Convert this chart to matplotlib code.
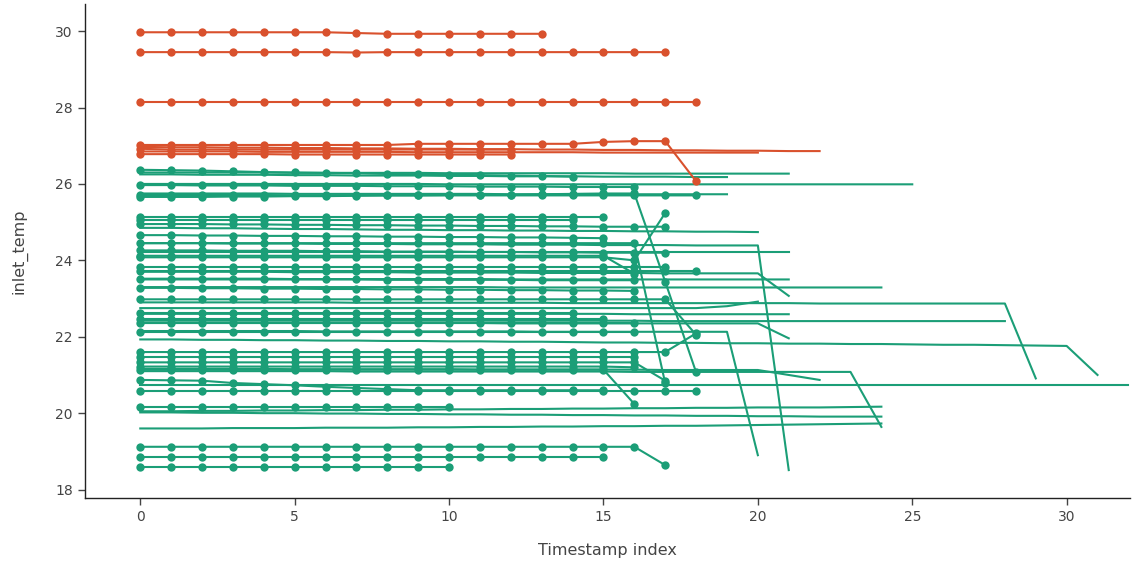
import matplotlib
matplotlib.use("Agg")
import matplotlib.pyplot as plt

plt.rcParams['font.family'] = ['DejaVu Sans']

GREEN = '#1b9e77'
RED = '#d9512d'

# ---- red group: rows with markers (fewer than 20 points) ----
red_marker_rows = [
    [29.97, 29.97, 29.97, 29.97, 29.97, 29.97, 29.97, 29.95, 29.93, 29.93, 29.93, 29.93, 29.93, 29.93],
    [29.45, 29.45, 29.45, 29.45, 29.45, 29.45, 29.45, 29.44, 29.45, 29.45, 29.45, 29.45, 29.45, 29.45, 29.45, 29.45, 29.45, 29.45],
    [28.15, 28.15, 28.15, 28.15, 28.15, 28.15, 28.15, 28.15, 28.15, 28.15, 28.15, 28.15, 28.15, 28.15, 28.15, 28.15, 28.15, 28.15, 28.15],
    [27.02, 27.02, 27.02, 27.02, 27.02, 27.02, 27.02, 27.02, 27.02, 27.05, 27.05, 27.05, 27.05, 27.05, 27.05, 27.10, 27.12, 27.12, 26.07],
    [26.92, 26.90, 26.90, 26.90, 26.90, 26.90, 26.90, 26.90, 26.90, 26.90, 26.90, 26.90, 26.90],
    [26.78, 26.78, 26.78, 26.78, 26.78, 26.77, 26.77, 26.77, 26.77, 26.77, 26.77, 26.77, 26.77],
]
# ---- red group: long rows drawn as lines only ----
red_line_rows = [
    [26.97, 26.96, 26.96, 26.95, 26.95, 26.94, 26.94, 26.93, 26.93, 26.92, 26.92, 26.91, 26.91, 26.90, 26.90, 26.89, 26.89, 26.88, 26.88, 26.87, 26.87, 26.86, 26.86],
    [26.85, 26.85, 26.85, 26.85, 26.84, 26.84, 26.84, 26.84, 26.84, 26.83, 26.83, 26.83, 26.83, 26.83, 26.83, 26.82, 26.82, 26.82, 26.82, 26.82, 26.82],
]

# ---- green group: rows with markers ----
green_marker_rows = [
    [26.37, 26.36, 26.35, 26.33, 26.31, 26.30, 26.29, 26.28, 26.26, 26.25, 26.24, 26.23, 26.22, 26.21, 26.19],
    [25.97, 25.97, 25.96, 25.96, 25.96, 25.95, 25.95, 25.95, 25.94, 25.94, 25.94, 25.93, 25.93, 25.93, 25.92, 25.92, 25.92],
    [25.71, 25.71, 25.71, 25.71, 25.71, 25.70, 25.70, 25.70, 25.70, 25.70, 25.70, 25.70, 25.70, 25.70, 25.70, 25.70, 25.70, 25.70, 25.70],
    [25.66, 25.66, 25.66, 25.67, 25.67, 25.68, 25.68, 25.69, 25.70, 25.70, 25.71, 25.72, 25.72, 25.73, 25.74, 25.75, 25.75, 23.44, 21.07],
    [25.13, 25.13, 25.13, 25.13, 25.13, 25.13, 25.13, 25.13, 25.13, 25.13, 25.13, 25.13, 25.13, 25.13, 25.13, 25.13],
    [25.05, 25.05, 25.05, 25.05, 25.05, 25.05, 25.05, 25.05, 25.05, 25.05, 25.05, 25.05, 25.05, 25.05, 25.05],
    [24.95, 24.95, 24.95, 24.94, 24.94, 24.93, 24.93, 24.92, 24.92, 24.91, 24.91, 24.90, 24.90, 24.89, 24.89, 24.88, 24.88, 24.88],
    [24.66, 24.66, 24.65, 24.65, 24.64, 24.64, 24.63, 24.63, 24.62, 24.62, 24.61, 24.61, 24.60, 24.60, 24.59, 24.58],
    [24.26, 24.26, 24.26, 24.25, 24.25, 24.25, 24.24, 24.24, 24.23, 24.23, 24.23, 24.22, 24.22, 24.21, 24.21, 24.20, 24.20, 24.20],
    [24.08, 24.08, 24.08, 24.08, 24.08, 24.08, 24.08, 24.08, 24.08, 24.08, 24.08, 24.08, 24.08, 24.08, 24.08, 24.08, 24.00, 25.24],
    [24.12, 24.12, 24.12, 24.12, 24.12, 24.12, 24.12, 24.12, 24.12, 24.12, 24.12, 24.12, 24.12, 24.12, 24.12, 24.12, 23.65],
    [23.82, 23.82, 23.82, 23.82, 23.82, 23.82, 23.82, 23.82, 23.82, 23.82, 23.82, 23.82, 23.82, 23.82, 23.82, 23.82, 23.82, 23.82],
    [23.73, 23.73, 23.73, 23.73, 23.73, 23.73, 23.73, 23.73, 23.73, 23.73, 23.73, 23.73, 23.73, 23.73, 23.73, 23.73, 23.73, 23.73, 23.73],
    [23.50, 23.50, 23.50, 23.50, 23.50, 23.50, 23.50, 23.50, 23.49, 23.49, 23.49, 23.49, 23.49, 23.48, 23.48, 23.48, 23.48],
    [23.28, 23.28, 23.27, 23.27, 23.26, 23.26, 23.25, 23.25, 23.24, 23.24, 23.23, 23.23, 23.22, 23.22, 23.21, 23.21, 23.20],
    [22.98, 22.98, 22.98, 22.98, 22.98, 22.98, 22.98, 22.98, 22.98, 22.98, 22.98, 22.98, 22.98, 22.98, 22.98, 22.98, 22.98, 22.98, 22.05],
    [22.61, 22.61, 22.61, 22.61, 22.61, 22.61, 22.61, 22.61, 22.61, 22.61, 22.61, 22.61, 22.61, 22.61, 22.61],
    [22.47, 22.47, 22.47, 22.47, 22.47, 22.47, 22.47, 22.47, 22.47, 22.47, 22.47, 22.47, 22.47, 22.47, 22.47, 22.47],
    [22.35, 22.35, 22.35, 22.35, 22.35, 22.35, 22.35, 22.35, 22.35, 22.35, 22.35, 22.35, 22.35, 22.35, 22.35, 22.35, 22.35],
    [22.12, 22.12, 22.12, 22.12, 22.12, 22.12, 22.12, 22.12, 22.12, 22.12, 22.12, 22.12, 22.12, 22.12, 22.12, 22.12, 22.12],
    [21.60, 21.60, 21.60, 21.60, 21.60, 21.60, 21.60, 21.60, 21.60, 21.60, 21.60, 21.60, 21.60, 21.60, 21.60, 21.60, 21.60, 21.60, 22.09],
    [21.48, 21.48, 21.48, 21.48, 21.48, 21.48, 21.48, 21.48, 21.48, 21.48, 21.48, 21.48, 21.48, 21.48, 21.48, 21.48, 21.48],
    [21.33, 21.33, 21.33, 21.33, 21.33, 21.33, 21.33, 21.33, 21.33, 21.33, 21.33, 21.33, 21.33, 21.33, 21.33, 21.33, 21.33, 20.85],
    [21.14, 21.14, 21.14, 21.14, 21.14, 21.14, 21.14, 21.14, 21.14, 21.14, 21.14, 21.14, 21.14, 21.14, 21.14, 21.14, 20.24],
    [21.22, 21.22, 21.22, 21.22, 21.22, 21.22, 21.22, 21.22, 21.22, 21.22, 21.22, 21.22, 21.22, 21.22, 21.22, 21.22, 21.20],
    [20.87, 20.86, 20.85, 20.79, 20.76, 20.73, 20.69, 20.66, 20.63, 20.60, 20.60, 20.60, 20.60, 20.60, 20.60, 20.60],
    [20.57, 20.57, 20.57, 20.57, 20.57, 20.57, 20.57, 20.57, 20.57, 20.57, 20.57, 20.57, 20.57, 20.57, 20.57, 20.57, 20.57, 20.57, 20.57],
    [20.15, 20.15, 20.15, 20.15, 20.15, 20.15, 20.15, 20.15, 20.15, 20.15, 20.15],
    [19.12, 19.12, 19.12, 19.12, 19.12, 19.12, 19.12, 19.12, 19.12, 19.12, 19.12, 19.12, 19.12, 19.12, 19.12, 19.12, 19.12, 18.64],
    [18.86, 18.86, 18.86, 18.86, 18.86, 18.86, 18.86, 18.86, 18.86, 18.86, 18.86, 18.86, 18.86, 18.86, 18.86, 18.86],
    [18.60, 18.60, 18.60, 18.60, 18.60, 18.60, 18.60, 18.60, 18.60, 18.60, 18.60],
    [24.45, 24.45, 24.45, 24.45, 24.45, 24.45, 24.45, 24.45, 24.45, 24.45, 24.45, 24.45, 24.45, 24.45, 24.45, 24.45, 24.45, 20.78],
]

# ---- green group: long rows drawn as lines only ----
green_line_rows = [
    [26.30, 26.30, 26.30, 26.30, 26.30, 26.29, 26.29, 26.29, 26.29, 26.29, 26.28, 26.28, 26.28, 26.28, 26.28, 26.28, 26.27, 26.27, 26.27, 26.27, 26.27, 26.27],
    [26.25, 26.25, 26.24, 26.24, 26.24, 26.23, 26.23, 26.22, 26.22, 26.22, 26.21, 26.21, 26.20, 26.20, 26.20, 26.19, 26.19, 26.19, 26.18, 26.18],
    [26.00, 26.00, 26.00, 26.00, 26.00, 26.00, 26.00, 26.00, 26.00, 26.00, 25.99, 25.99, 25.99, 25.99, 25.99, 25.99, 25.99, 25.99, 25.99, 25.99, 25.99, 25.99, 25.99, 25.99, 25.99, 25.99],
    [25.75, 25.75, 25.75, 25.75, 25.75, 25.74, 25.74, 25.74, 25.74, 25.74, 25.74, 25.74, 25.73, 25.73, 25.73, 25.73, 25.73, 25.73, 25.73, 25.73],
    [24.85, 24.85, 24.84, 24.84, 24.83, 24.82, 24.82, 24.81, 24.80, 24.80, 24.79, 24.79, 24.78, 24.78, 24.77, 24.77, 24.76, 24.76, 24.75, 24.75, 24.74],
    [24.45, 24.45, 24.45, 24.44, 24.44, 24.44, 24.43, 24.43, 24.43, 24.42, 24.42, 24.42, 24.41, 24.41, 24.41, 24.40, 24.40, 24.40, 24.39, 24.39, 24.39, 18.51],
    [24.21, 24.21, 24.21, 24.21, 24.21, 24.21, 24.21, 24.21, 24.21, 24.21, 24.21, 24.21, 24.21, 24.21, 24.21, 24.21, 24.21, 24.21, 24.21, 24.21, 24.21, 24.21],
    [23.70, 23.70, 23.70, 23.70, 23.70, 23.69, 23.69, 23.69, 23.69, 23.68, 23.68, 23.68, 23.68, 23.67, 23.67, 23.67, 23.67, 23.66, 23.66, 23.66, 23.66, 23.07],
    [23.52, 23.52, 23.52, 23.52, 23.52, 23.51, 23.51, 23.51, 23.51, 23.51, 23.51, 23.51, 23.50, 23.50, 23.50, 23.50, 23.50, 23.50, 23.50, 23.50, 23.50, 23.50],
    [23.30, 23.30, 23.30, 23.30, 23.30, 23.30, 23.30, 23.30, 23.30, 23.30, 23.30, 23.30, 23.29, 23.29, 23.29, 23.29, 23.29, 23.29, 23.29, 23.29, 23.29, 23.29, 23.29, 23.29, 23.29],
    [22.90, 22.90, 22.90, 22.90, 22.90, 22.90, 22.90, 22.89, 22.89, 22.89, 22.89, 22.89, 22.89, 22.89, 22.88, 22.88, 22.88, 22.88, 22.88, 22.88, 22.88, 22.88, 22.87, 22.87, 22.87, 22.87, 22.87, 22.87, 22.87, 20.91],
    [22.42, 22.42, 22.42, 22.42, 22.42, 22.42, 22.42, 22.42, 22.42, 22.42, 22.42, 22.42, 22.42, 22.42, 22.42, 22.42, 22.42, 22.41, 22.41, 22.41, 22.41, 22.41, 22.41, 22.41, 22.41, 22.41, 22.41, 22.41, 22.41],
    [22.15, 22.15, 22.15, 22.15, 22.15, 22.15, 22.14, 22.14, 22.14, 22.14, 22.14, 22.14, 22.14, 22.13, 22.13, 22.13, 22.13, 22.13, 22.13, 22.13, 18.90],
    [21.93, 21.93, 21.92, 21.92, 21.91, 21.91, 21.90, 21.90, 21.89, 21.89, 21.88, 21.88, 21.87, 21.87, 21.86, 21.85, 21.85, 21.84, 21.84, 21.83, 21.83, 21.82, 21.82, 21.81, 21.81, 21.80, 21.79, 21.79, 21.78, 21.77, 21.76, 21.00],
    [21.16, 21.16, 21.16, 21.16, 21.16, 21.15, 21.15, 21.15, 21.15, 21.15, 21.15, 21.14, 21.14, 21.14, 21.14, 21.14, 21.14, 21.13, 21.13, 21.13, 21.13, 21.00, 20.87],
    [21.10, 21.10, 21.10, 21.10, 21.10, 21.10, 21.10, 21.09, 21.09, 21.09, 21.09, 21.09, 21.09, 21.09, 21.09, 21.09, 21.08, 21.08, 21.08, 21.08, 21.08, 21.08, 21.08, 21.08, 19.64],
    [20.73, 20.73, 20.73, 20.73, 20.73, 20.73, 20.73, 20.73, 20.73, 20.73, 20.73, 20.73, 20.73, 20.73, 20.73, 20.73, 20.73, 20.73, 20.73, 20.73, 20.73, 20.73, 20.73, 20.73, 20.73, 20.73, 20.73, 20.73, 20.73, 20.73, 20.73, 20.73, 20.73],
    [20.05, 20.05, 20.06, 20.06, 20.07, 20.07, 20.08, 20.08, 20.09, 20.09, 20.10, 20.10, 20.11, 20.11, 20.12, 20.12, 20.13, 20.13, 20.14, 20.14, 20.15, 20.15, 20.15, 20.16, 20.17],
    [20.02, 20.02, 20.01, 20.01, 20.00, 20.00, 19.99, 19.99, 19.98, 19.98, 19.97, 19.97, 19.96, 19.96, 19.95, 19.95, 19.94, 19.94, 19.93, 19.93, 19.92, 19.92, 19.91, 19.91, 19.91],
    [19.60, 19.60, 19.60, 19.61, 19.61, 19.61, 19.62, 19.62, 19.62, 19.63, 19.63, 19.64, 19.64, 19.65, 19.65, 19.66, 19.66, 19.67, 19.67, 19.68, 19.69, 19.70, 19.71, 19.72, 19.73],
    [22.75, 22.75, 22.75, 22.75, 22.75, 22.75, 22.75, 22.75, 22.75, 22.75, 22.75, 22.75, 22.75, 22.75, 22.75, 22.75, 22.75, 22.75, 22.75, 22.80, 22.92],
    [22.60, 22.60, 22.60, 22.60, 22.60, 22.60, 22.60, 22.60, 22.60, 22.60, 22.60, 22.60, 22.60, 22.60, 22.60, 22.60, 22.59, 22.59, 22.59, 22.59, 22.59, 22.59],
    [22.36, 22.36, 22.36, 22.36, 22.36, 22.36, 22.36, 22.36, 22.36, 22.36, 22.36, 22.36, 22.35, 22.35, 22.35, 22.35, 22.35, 22.35, 22.35, 22.35, 22.35, 21.96],
]

x_ticks = [0, 5, 10, 15, 20, 25, 30]
y_ticks = [18, 20, 22, 24, 26, 28, 30]
x_label = 'Timestamp index'
y_label = 'inlet_temp'

fig = plt.figure(figsize=(11.37, 5.62), dpi=100)
ax = fig.add_axes([0.0745, 0.1139, 0.9193, 0.879])

LW = 1.5
MS = 6

def draw(rows, color, markers):
    for ys in rows:
        xs = list(range(len(ys)))
        if markers:
            ax.plot(xs, ys, color=color, lw=LW, marker='o', ms=MS,
                    markeredgewidth=0, solid_joinstyle='round')
        else:
            ax.plot(xs, ys, color=color, lw=LW, solid_joinstyle='round')

draw(green_line_rows, GREEN, False)
draw(green_marker_rows, GREEN, True)
draw(red_line_rows, RED, False)
draw(red_marker_rows, RED, True)

ax.set_xlim(-1.8, 32.05)
ax.set_ylim(17.78, 30.71)
ax.set_xticks(x_ticks)
ax.set_yticks(y_ticks)
for s in ['top', 'right']:
    ax.spines[s].set_visible(False)
for s in ['left', 'bottom']:
    ax.spines[s].set_color('#222222')
    ax.spines[s].set_linewidth(1.0)
ax.tick_params(axis='both', direction='out', length=5, width=1, color='#444444',
               labelcolor='#444444', labelsize=10)
ax.set_xlabel(x_label, fontsize=11.5, color='#444444', labelpad=14)
ax.set_ylabel(y_label, fontsize=11.5, color='#444444', labelpad=20)

fig.savefig('out.png', dpi=100)
